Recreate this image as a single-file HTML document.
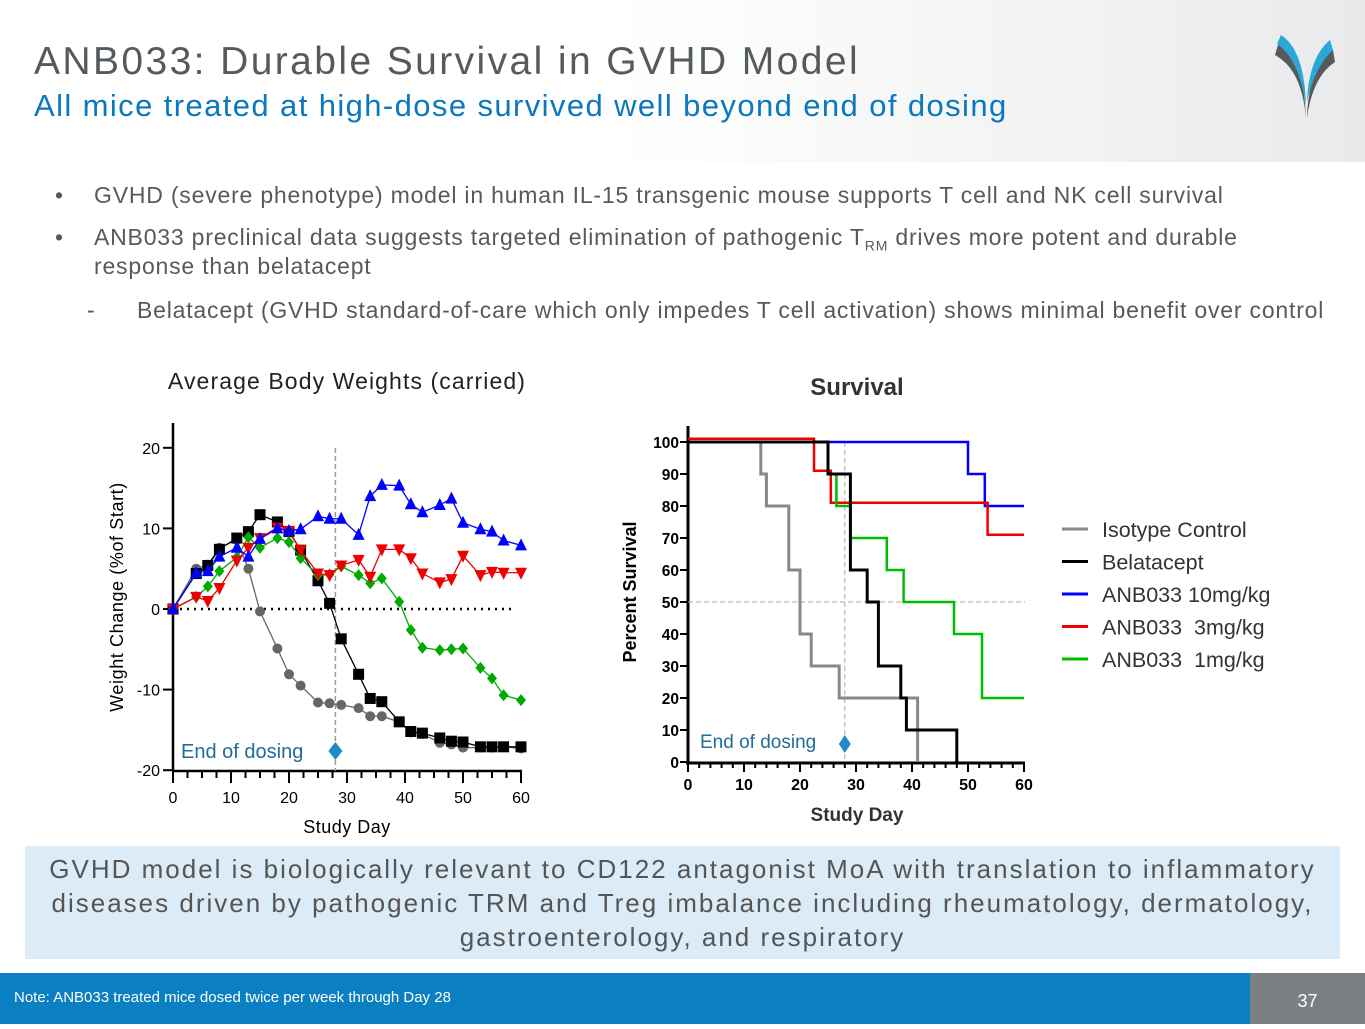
<!DOCTYPE html>
<html><head><meta charset="utf-8">
<style>
body{margin:0;width:1365px;height:1024px;position:relative;overflow:hidden;background:#fff;font-family:"Liberation Sans",sans-serif;}
.hdr{position:absolute;left:0;top:0;width:1365px;height:162px;background:linear-gradient(90deg,#fff 0%,#fff 45%,#e9eaeb 100%);}
.title{position:absolute;left:34px;top:40px;font-size:39px;color:#555a5f;letter-spacing:2.4px;white-space:nowrap;}
.sub{position:absolute;left:34px;top:88px;font-size:31px;color:#0a78c0;letter-spacing:1.4px;white-space:nowrap;}
.b{position:absolute;font-size:23px;color:#595959;line-height:29px;letter-spacing:0.8px;white-space:nowrap;}
.box{position:absolute;left:25px;top:846px;width:1315px;height:113px;background:#dbebf7;text-align:center;font-size:26px;color:#555;line-height:34px;letter-spacing:2px;padding-top:6px;box-sizing:border-box;white-space:nowrap;}
.foot{position:absolute;left:0;top:973px;width:1365px;height:51px;background:#0a7fc2;}
.pg{position:absolute;right:0;top:973px;width:115px;height:51px;background:#7c7f82;color:#fff;font-size:18px;text-align:center;line-height:56px;}
</style></head><body>
<div class="hdr"></div>
<div class="title">ANB033: Durable Survival in GVHD Model</div>
<div class="sub">All mice treated at high-dose survived well beyond end of dosing</div>
<svg style="position:absolute;left:1275px;top:30px" width="60" height="95" viewBox="0 0 60 95">
<path d="M3,15 C20,20 30,50 31,88 C28,55 18,35 0,25Z" fill="#58595b"/>
<path d="M6,5 C22,15 30,40 31,75 C26,45 18,25 2,14Z" fill="#2ba7d8"/>
<path d="M58,20 C42,30 33,55 32,88 C36,60 45,42 60,32Z" fill="#58595b"/>
<path d="M55,10 C40,22 33,45 32,72 C37,50 45,32 58,20Z" fill="#2ba7d8"/>
</svg>
<div class="b" style="left:55px;top:181px">•</div>
<div class="b" style="left:94px;top:181px">GVHD (severe phenotype) model in human IL-15 transgenic mouse supports T cell and NK cell survival</div>
<div class="b" style="left:55px;top:223px">•</div>
<div class="b" style="left:94px;top:223px">ANB033 preclinical data suggests targeted elimination of pathogenic T<sub style="font-size:14px;line-height:0">RM</sub> drives more potent and durable<br>response than belatacept</div>
<div class="b" style="left:87px;top:296px">-</div>
<div class="b" style="left:137px;top:296px">Belatacept (GVHD standard-of-care which only impedes T cell activation) shows minimal benefit over control</div>

<svg id="c1" style="position:absolute;left:0;top:0" width="600" height="845"></svg>
<svg id="c2" style="position:absolute;left:0;top:0" width="1365" height="845"></svg>

<div class="box">GVHD model is biologically relevant to CD122 antagonist MoA with translation to inflammatory<br>diseases driven by pathogenic TRM and Treg imbalance including rheumatology, dermatology,<br>gastroenterology, and respiratory</div>
<div class="foot"><span style="position:absolute;left:14px;top:16px;color:#fff;font-size:15px">Note: ANB033 treated mice dosed twice per week through Day 28</span></div>
<div class="pg">37</div>

<script>
const days=[0,4,6,8,11,13,15,18,20,22,25,27,29,32,34,36,39,41,43,46,48,50,53,55,57,60];
const blueW=[0,4.5,4.7,6.5,7.6,6.5,8.7,10,9.7,9.9,11.5,11.2,11.2,9.2,14,15.4,15.3,13,12,12.9,13.7,10.7,9.9,9.6,8.5,7.9];
const redW=[0,1.5,1,2.6,6,7.6,8.8,10.1,9.7,7.3,4.4,4.2,5.4,6.1,4,7.4,7.4,6.3,4.4,3.3,3.7,6.6,4.2,4.6,4.5,4.5];
const greenW=[0,1.5,2.8,4.7,6.4,8.9,7.6,8.8,8.3,6.3,4.2,4.3,5.3,4.2,3.2,3.8,0.9,-2.6,-4.8,-5.1,-5,-4.9,-7.3,-8.6,-10.7,-11.3];
const blackW=[0,4.4,5.4,7.4,8.8,9.6,11.7,10.8,9.6,7.3,3.5,0.7,-3.7,-8.1,-11.1,-11.5,-14,-15.2,-15.4,-16,-16.4,-16.5,-17.1,-17.1,-17.1,-17.1];
const grayW=[0,5,5.5,7.6,8.6,5,-0.3,-4.9,-8.1,-9.5,-11.6,-11.7,-11.9,-12.3,-13.3,-13.3,-14,-15.3,-15.5,-16.6,-16.8,-17.2,-17.2,-17.2,-17.1,-17.3];
const xTicks1=[0,10,20,30,40,50,60];
const yTicks1=[20,10,0,-10,-20];

const NS="http://www.w3.org/2000/svg";
function mk(svg,tag,at,txt){const e=document.createElementNS(NS,tag);for(const k in at)e.setAttribute(k,at[k]);if(txt!==undefined)e.textContent=txt;svg.appendChild(e);return e;}

const s1=document.getElementById('c1');
const X1=d=>173+d*5.8, Y1=v=>609-v*8.06;
let t=mk(s1,'text',{x:347,y:389,'text-anchor':'middle','font-size':23,fill:'#222','letter-spacing':'1.1'},'Average Body Weights (carried)');


t=mk(s1,'line',{x1:173,y1:423,x2:173,y2:771,stroke:'#000','stroke-width':2.5});


t=mk(s1,'line',{x1:172,y1:771,x2:522,y2:771,stroke:'#000','stroke-width':2.5});


yTicks1.forEach(v=>{mk(s1,'line',{x1:163,y1:Y1(v),x2:173,y2:Y1(v),stroke:'#000','stroke-width':2});
 const l=mk(s1,'text',{x:160,y:Y1(v)+6,'text-anchor':'end','font-size':16,fill:'#000'},v);
 
 });
for(let d=0;d<=60;d+=2.5){const big=d%10===0;mk(s1,'line',{x1:X1(d),y1:771,x2:X1(d),y2:big?783:778,stroke:'#000','stroke-width':2});}
xTicks1.forEach(d=>{const l=mk(s1,'text',{x:X1(d),y:803,'text-anchor':'middle','font-size':16,fill:'#000'},d);
 
 });
t=mk(s1,'text',{x:347,y:833,'text-anchor':'middle','font-size':18,fill:'#000','letter-spacing':'0.5'},'Study Day');


t=mk(s1,'text',{x:123,y:597,'text-anchor':'middle','font-size':18,fill:'#000','letter-spacing':'0.6',transform:'rotate(-90 123 597)'},'Weight Change (%of Start)');


mk(s1,'line',{x1:X1(0),y1:Y1(0),x2:X1(59),y2:Y1(0),stroke:'#000','stroke-width':2.5,'stroke-dasharray':'2 5'});
mk(s1,'line',{x1:X1(28),y1:448,x2:X1(28),y2:771,stroke:'#999','stroke-width':1.5,'stroke-dasharray':'5 3'});
t=mk(s1,'text',{x:181,y:758,'font-size':20,fill:'#1f6e97'},'End of dosing');


mk(s1,'polygon',{points:`${X1(28)},742 ${X1(28)+7},751 ${X1(28)},760 ${X1(28)-7},751`,fill:'#1d8cc4'});
function marker(svg,type,x,y,c){
 if(type==='circle')return mk(svg,'circle',{cx:x,cy:y,r:5,fill:c});
 if(type==='square')return mk(svg,'rect',{x:x-5.5,y:y-5.5,width:11,height:11,fill:c});
 if(type==='up')return mk(svg,'polygon',{points:`${x},${y-7} ${x+6},${y+5} ${x-6},${y+5}`,fill:c});
 if(type==='down')return mk(svg,'polygon',{points:`${x},${y+7} ${x+6},${y-5} ${x-6},${y-5}`,fill:c});
 return mk(svg,'polygon',{points:`${x},${y-6} ${x+5},${y} ${x},${y+6} ${x-5},${y}`,fill:c});
}
[[grayW,'#666','circle','series-isotype-control'],[blackW,'#000','square','series-belatacept'],[greenW,'#0a0','diamond','series-anb033-1mg'],[redW,'#e00','down','series-anb033-3mg'],[blueW,'#00f','up','series-anb033-10mg']].forEach(([arr,c,m,n])=>{
 const g=mk(s1,'g',{});
 
 
 mk(g,'polyline',{points:arr.map((v,i)=>X1(days[i])+','+Y1(v)).join(' '),fill:'none',stroke:c,'stroke-width':1.3});
 arr.forEach((v,i)=>{const p=marker(g,m,X1(days[i]),Y1(v),c);
  
  });
});

const grayS=[[0,100],[13,90],[14,80],[18,60],[20,40],[22,30],[27,20],[41,0]];
const blackS=[[0,100],[25,90],[29,60],[32,50],[34,30],[38,20],[39,10],[48,0]];
const blueS=[[0,100],[50,90],[53,80],[60,80]];
const redS=[[0,101],[22.5,91],[25.5,81],[53.5,71],[60,71]];
const greenS=[[0,100],[25,90],[26.5,80],[29,70],[35.5,60],[38.5,50],[47.5,40],[52.5,20],[60,20]];
const xTicks2=[0,10,20,30,40,50,60];
const yTicks2=[0,10,20,30,40,50,60,70,80,90,100];
const s2=document.getElementById('c2');
const X2=d=>688+d*5.6, Y2=v=>762-v*3.2;
t=mk(s2,'text',{x:857,y:395,'text-anchor':'middle','font-size':24,'font-weight':'bold',fill:'#333'},'Survival');


mk(s2,'line',{x1:688,y1:426,x2:688,y2:764,stroke:'#000','stroke-width':3});
mk(s2,'line',{x1:686,y1:763,x2:1025,y2:763,stroke:'#000','stroke-width':3});
yTicks2.forEach(v=>{mk(s2,'line',{x1:680,y1:Y2(v),x2:688,y2:Y2(v),stroke:'#000','stroke-width':2});
 const l=mk(s2,'text',{x:679,y:Y2(v)+6,'text-anchor':'end','font-size':15.5,'font-weight':'bold',fill:'#000'},v);
 
 });
for(let d=0;d<=60;d+=2){mk(s2,'line',{x1:X2(d),y1:763,x2:X2(d),y2:d%10===0?772:768,stroke:'#000','stroke-width':2});}
xTicks2.forEach(d=>{const l=mk(s2,'text',{x:X2(d),y:790,'text-anchor':'middle','font-size':16,'font-weight':'bold',fill:'#000'},d);
 
 });
t=mk(s2,'text',{x:857,y:821,'text-anchor':'middle','font-size':19,'font-weight':'bold',fill:'#333'},'Study Day');


t=mk(s2,'text',{x:636,y:592,'text-anchor':'middle','font-size':18,'font-weight':'bold',fill:'#000',transform:'rotate(-90 636 592)'},'Percent Survival');


mk(s2,'line',{x1:688,y1:Y2(50),x2:1025,y2:Y2(50),stroke:'#aaa','stroke-width':1,'stroke-dasharray':'5 3'});
mk(s2,'line',{x1:X2(28),y1:442,x2:X2(28),y2:762,stroke:'#aaa','stroke-width':1,'stroke-dasharray':'5 3'});
function stepPts(a){let p=[];a.forEach(([d,v],i)=>{if(i>0)p.push(X2(d)+','+Y2(a[i-1][1]));p.push(X2(d)+','+Y2(v));});return p.join(' ');}
[[grayS,'#888','survival-isotype-control',3],[blueS,'#00f','survival-anb033-10mg',2.5],[redS,'#e00','survival-anb033-3mg',2.5],[greenS,'#0b0','survival-anb033-1mg',2.5],[blackS,'#000','survival-belatacept',3]].forEach(([a,c,n,w])=>{
 const p=mk(s2,'polyline',{points:stepPts(a),fill:'none',stroke:c,'stroke-width':w});
 
 
});
t=mk(s2,'text',{x:700,y:748,'font-size':19,fill:'#1f6e97'},'End of dosing');


mk(s2,'polygon',{points:`${X2(28)},735 ${X2(28)+6},744 ${X2(28)},753 ${X2(28)-6},744`,fill:'#1d8cc4'});
const legNames=['Isotype Control','Belatacept','ANB033 10mg/kg','ANB033  3mg/kg','ANB033  1mg/kg'];
const legCols=['#888','#000','#00f','#e00','#0b0'];
legNames.forEach((n,i)=>{const y=529+i*32.5;
 const g=mk(s2,'g',{});
 
 
 mk(g,'line',{x1:1062,y1:y,x2:1088,y2:y,stroke:legCols[i],'stroke-width':3});
 mk(g,'text',{x:1102,y:y+8,'font-size':21.5,fill:'#333',style:'white-space:pre'},n);
});
</script>
</body></html>
